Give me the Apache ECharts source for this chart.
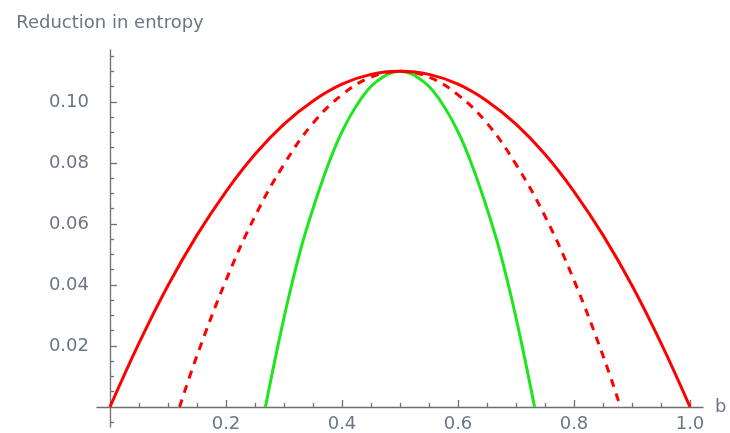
<!DOCTYPE html>
<html>
<head>
<meta charset="utf-8">
<script src="https://cdn.jsdelivr.net/npm/echarts@6/dist/echarts.min.js"></script>
<style>
  html, body { margin: 0; padding: 0; background: #fff; }
  #chart { width: 730px; height: 433px; }
</style>
</head>
<body>
<div id="chart"></div>
<script>
// Reduction in entropy as a function of b, three cases.
const bWide   = [0, 0.05, 0.10, 0.15, 0.20, 0.25, 0.30, 0.35, 0.40, 0.45, 0.50,
                 0.55, 0.60, 0.65, 0.70, 0.75, 0.80, 0.85, 0.90, 0.95, 1.0];
const redWide = [0, 0.0209, 0.0398, 0.0563, 0.0706, 0.0828, 0.0927, 0.1003, 0.1058, 0.1090, 0.1100,
                 0.1090, 0.1058, 0.1003, 0.0927, 0.0828, 0.0706, 0.0563, 0.0398, 0.0209, 0];

const bMid    = [0.12, 0.15, 0.20, 0.25, 0.30, 0.35, 0.40, 0.45, 0.50,
                 0.55, 0.60, 0.65, 0.70, 0.75, 0.80, 0.85, 0.88];
const redMid  = [0, 0.0168, 0.0415, 0.0625, 0.0795, 0.0930, 0.1023, 0.1081, 0.1100,
                 0.1081, 0.1023, 0.0930, 0.0795, 0.0625, 0.0415, 0.0168, 0];

const bNarrow = [0.268, 0.29, 0.31, 0.33, 0.35, 0.375, 0.40, 0.43, 0.46, 0.50,
                 0.54, 0.57, 0.60, 0.625, 0.65, 0.67, 0.69, 0.71, 0.732];
const green   = [0, 0.0205, 0.0375, 0.0525, 0.0650, 0.0788, 0.0902, 0.1002, 0.1067, 0.1100,
                 0.1067, 0.1002, 0.0902, 0.0788, 0.0650, 0.0525, 0.0375, 0.0205, 0];

// Axis ticks and labels
const xMajor = [0.2, 0.4, 0.6, 0.8, 1.0];
const xMinor = [0.05, 0.10, 0.15, 0.25, 0.30, 0.35, 0.45, 0.50, 0.55, 0.65, 0.70, 0.75, 0.85, 0.90, 0.95];
const yMajor = [0.02, 0.04, 0.06, 0.08, 0.10];
const yMinor = [-0.005, 0.005, 0.010, 0.015, 0.025, 0.030, 0.035, 0.045, 0.050, 0.055,
                0.065, 0.070, 0.075, 0.085, 0.090, 0.095, 0.105, 0.110, 0.115];

const xName = 'b';
const yName = 'Reduction in entropy';

const pairs = (xs, ys) => xs.map((x, i) => [x, ys[i]]);

const FONT = 'DejaVu Sans';
const TEXT = '#6b7684';
const AXIS = '#6e6e6e';
const X_MIN = -0.0224, X_MAX = 1.0224;
const Y_MIN = -0.0066, Y_MAX = 0.117;

const chart = echarts.init(document.getElementById('chart'), null, { renderer: 'canvas' });

chart.setOption({
  animation: false,
  backgroundColor: '#ffffff',
  grid: { left: 97, right: 27, top: 50, bottom: 6, containLabel: false, outerBoundsMode: 'none' },
  xAxis: [
    {
      type: 'value', min: X_MIN, max: X_MAX, position: 'bottom',
      name: xName, nameLocation: 'end', nameGap: 12,
      nameTextStyle: { color: TEXT, fontFamily: FONT, fontSize: 18, verticalAlign: 'middle' },
      axisLine: { show: true, onZero: true, lineStyle: { color: AXIS, width: 1.3 } },
      axisTick: { show: true, inside: true, length: 7, customValues: xMajor, lineStyle: { color: AXIS, width: 1.3 } },
      axisLabel: { show: true, customValues: xMajor, margin: -12, color: TEXT, fontFamily: FONT, fontSize: 18,
                   formatter: v => v.toFixed(1) },
      splitLine: { show: false }
    },
    {
      type: 'value', min: X_MIN, max: X_MAX, position: 'bottom',
      axisLine: { show: false, onZero: true },
      axisTick: { show: true, inside: true, length: 4, customValues: xMinor, lineStyle: { color: AXIS, width: 1.3 } },
      axisLabel: { show: false },
      splitLine: { show: false }
    }
  ],
  yAxis: [
    {
      type: 'value', min: Y_MIN, max: Y_MAX, position: 'left',
      name: yName, nameLocation: 'end', nameGap: 18,
      nameTextStyle: { color: TEXT, fontFamily: FONT, fontSize: 18, align: 'center' },
      axisLine: { show: true, onZero: true, lineStyle: { color: AXIS, width: 1.3 } },
      axisTick: { show: true, inside: true, length: 7, customValues: yMajor, lineStyle: { color: AXIS, width: 1.3 } },
      axisLabel: { show: true, customValues: yMajor, margin: 8, color: TEXT, fontFamily: FONT, fontSize: 18,
                   formatter: v => v.toFixed(2) },
      splitLine: { show: false }
    },
    {
      type: 'value', min: Y_MIN, max: Y_MAX, position: 'left',
      axisLine: { show: false, onZero: true },
      axisTick: { show: true, inside: true, length: 4, customValues: yMinor, lineStyle: { color: AXIS, width: 1.3 } },
      axisLabel: { show: false },
      splitLine: { show: false }
    }
  ],
  series: [
    {
      type: 'line', data: pairs(bNarrow, green), smooth: 0.4, symbol: 'none',
      lineStyle: { color: '#1ee61e', width: 3 }
    },
    {
      type: 'line', data: pairs(bMid, redMid), smooth: 0.4, symbol: 'none',
      lineStyle: { color: '#ff0000', width: 3, type: [8, 7] }
    },
    {
      type: 'line', data: pairs(bWide, redWide), smooth: 0.4, symbol: 'none',
      lineStyle: { color: '#ff0000', width: 3 }
    }
  ]
});
</script>
</body>
</html>
